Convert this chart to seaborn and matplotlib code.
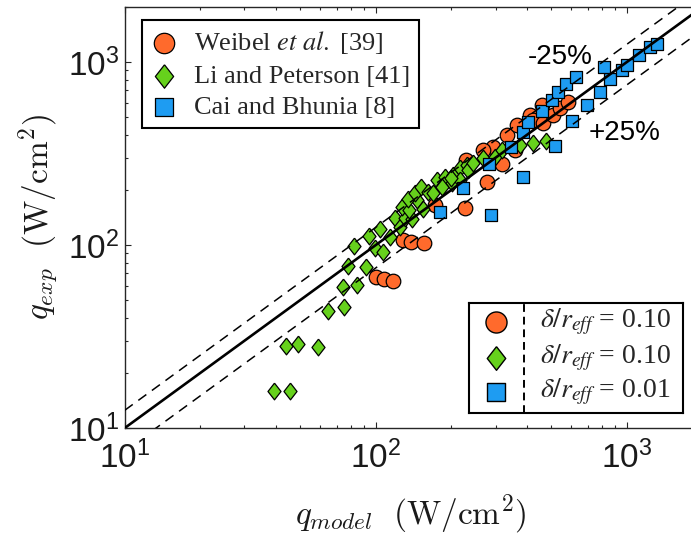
import numpy as np
import pandas as pd
import matplotlib
matplotlib.use("Agg")
import matplotlib.pyplot as plt
import seaborn as sns
from matplotlib.ticker import LogLocator, FuncFormatter, NullFormatter

# Heat flux pairs (W/cm^2): model prediction vs. experiment
weibel_model = [100, 108, 117, 128, 138, 155, 172, 227, 277, 318, 293, 359, 333,
                366, 412, 424, 464, 461, 508, 542, 583, 229, 268]
weibel_exp = [66.8, 65.2, 63.5, 106, 104, 102, 166, 159, 221, 277, 343, 331, 399,
              453, 513, 482, 464, 582, 513, 561, 604, 291, 331]

li_model = [39.4, 45.6, 44.0, 49.0, 58.9, 64.3, 74.4, 73.8, 84.1, 77.3, 91.8, 82.0,
            94.4, 99.3, 107, 104, 114, 119, 125, 131, 140, 127, 136, 146, 154, 135,
            144, 152, 162, 169, 175, 185, 189, 203, 201, 217, 231, 233, 244, 268,
            299, 318, 376, 424, 476, 183, 217, 200]
li_exp = [15.9, 15.9, 28.1, 28.8, 27.7, 43.5, 45.8, 58.9, 60.4, 76.7, 75.9, 98.8,
          112, 96.4, 91.6, 122, 111, 141, 125, 141, 139, 161, 155, 176, 157, 178,
          192, 207, 195, 192, 227, 213, 236, 241, 218, 264, 274, 257, 281, 299,
          303, 331, 352, 361, 370, 207, 227, 232]

cai_model = [180, 222, 288, 283, 386, 347, 386, 406, 461, 504, 531, 575, 628, 518,
             605, 695, 783, 857, 811, 957, 1003, 1115, 1239, 1316]
cai_exp = [151, 205, 146, 277, 236, 343, 414, 470, 543, 619, 686, 759, 828, 348,
           476, 582, 686, 807, 940, 904, 964, 1091, 1208, 1254]

series_names = [r"Weibel $\mathit{et\ al.}$ [39]", "Li and Peterson [41]", "Cai and Bhunia [8]"]
ratio_labels = [r"$\delta/r_{eff}$ = 0.10", r"$\delta/r_{eff}$ = 0.10", r"$\delta/r_{eff}$ = 0.01"]
series_colors = ["#FF6A2C", "#66D11C", "#1E9CF2"]
band_factors = [1.25, 0.75]
band_labels = ["-25%", "+25%"]
band_label_pos = [(542, 1064), (984, 409)]

axis_lim = [10, 2000]

sns.set_theme(style="ticks")
plt.rcParams["font.family"] = ["Liberation Sans", "DejaVu Sans"]
plt.rcParams["axes.edgecolor"] = "#262626"

diamond = [(0, 1), (0.78, 0), (0, -1), (-0.78, 0), (0, 1)]
series_markers = ["o", diamond, "s"]
series_sizes = [110, 145, 85]

fig = plt.figure(figsize=(6.91, 5.39), dpi=100)
ax = fig.add_axes([0.1805, 0.2059, 0.8359, 0.7811])

frames = [
    pd.DataFrame({"q_model": weibel_model, "q_exp": weibel_exp}),
    pd.DataFrame({"q_model": li_model, "q_exp": li_exp}),
    pd.DataFrame({"q_model": cai_model, "q_exp": cai_exp}),
]
for df, name, col, mk, sz in zip(frames, series_names, series_colors, series_markers, series_sizes):
    sns.scatterplot(data=df, x="q_model", y="q_exp", ax=ax, marker=mk, s=sz,
                    color=col, edgecolor="black", linewidth=0.9, label=name, zorder=3)

ax.set_xscale("log")
ax.set_yscale("log")
ax.set_xlim(axis_lim)
ax.set_ylim(axis_lim)

# parity line and +/-25 % band
line_x = np.array(axis_lim, dtype=float)
ax.plot(line_x, line_x, color="black", lw=1.9, zorder=5)
for f in band_factors:
    ax.plot(line_x, line_x * f, color="black", lw=1.1, dashes=(6.5, 4.5), zorder=5)
for txt, (tx, ty) in zip(band_labels, band_label_pos):
    ax.text(tx, ty, txt, fontsize=20, ha="center", va="center", color="black")

fmt = FuncFormatter(lambda v, p: r"$\mathregular{10^{%d}}$" % round(np.log10(v)))
for axis in (ax.xaxis, ax.yaxis):
    axis.set_major_locator(LogLocator(base=10))
    axis.set_minor_locator(LogLocator(base=10, subs=np.arange(2, 10)))
    axis.set_major_formatter(fmt)
    axis.set_minor_formatter(NullFormatter())
ax.tick_params(which="both", direction="in", top=True, right=True, color="#262626",
               width=0.8, labelsize=24, labelcolor="#1a1a1a")
ax.tick_params(which="major", length=4.5)
ax.tick_params(which="minor", length=2.5)
ax.tick_params(axis="x", pad=9)
ax.tick_params(axis="y", pad=4)
for sp in ax.spines.values():
    sp.set_linewidth(1.0)

xl = ax.set_xlabel(r"$q_{model}\ \ (\mathrm{W/cm^2})$", fontsize=24, color="#1a1a1a")
yl = ax.set_ylabel(r"$q_{exp}\ \ (\mathrm{W/cm^2})$", fontsize=24, color="#1a1a1a")
xl.set_math_fontfamily("cm")
yl.set_math_fontfamily("cm")
ax.xaxis.set_label_coords(0.496, -0.205)
ax.yaxis.set_label_coords(-0.148, 0.50)
xl.set_va("center")
yl.set_va("center")

handles, labels = ax.get_legend_handles_labels()
leg = ax.legend(handles, labels, loc="upper left", bbox_to_anchor=(0.030, 0.969),
                borderaxespad=0, fancybox=False, framealpha=1, edgecolor="black",
                fontsize=19, markerscale=1.4, handlelength=1.0, handletextpad=0.6,
                borderpad=0.35, labelspacing=0.3)
leg.get_frame().set_linewidth(1.5)
for t in leg.get_texts():
    t.set_fontfamily(["Liberation Serif"])
    t.set_math_fontfamily("stix")

# second key: parameter per data set
key = fig.add_axes([469 / 691, 1 - 413 / 539, 214 / 691, 110 / 539])
key.set_xlim(0, 1)
key.set_ylim(0, 1)
key.set_xticks([])
key.set_yticks([])
for sp in key.spines.values():
    sp.set_linewidth(1.5)
    sp.set_edgecolor("black")
rows_y = [0.827, 0.50, 0.19]
key_sizes = [230, 290, 180]
for yy, col, mk, sz, lab in zip(rows_y, series_colors, series_markers, key_sizes, ratio_labels):
    key.scatter([0.126], [yy], marker=mk, s=sz, color=col, edgecolor="black", linewidth=1.0)
    t = key.text(0.33, yy, lab, fontsize=20, va="center", ha="left",
                 fontfamily=["Liberation Serif"])
    t.set_math_fontfamily("stix")
key.axvline(0.257, color="black", lw=1.4, dashes=(4, 2.5))

fig.savefig("out.png", dpi=100)
